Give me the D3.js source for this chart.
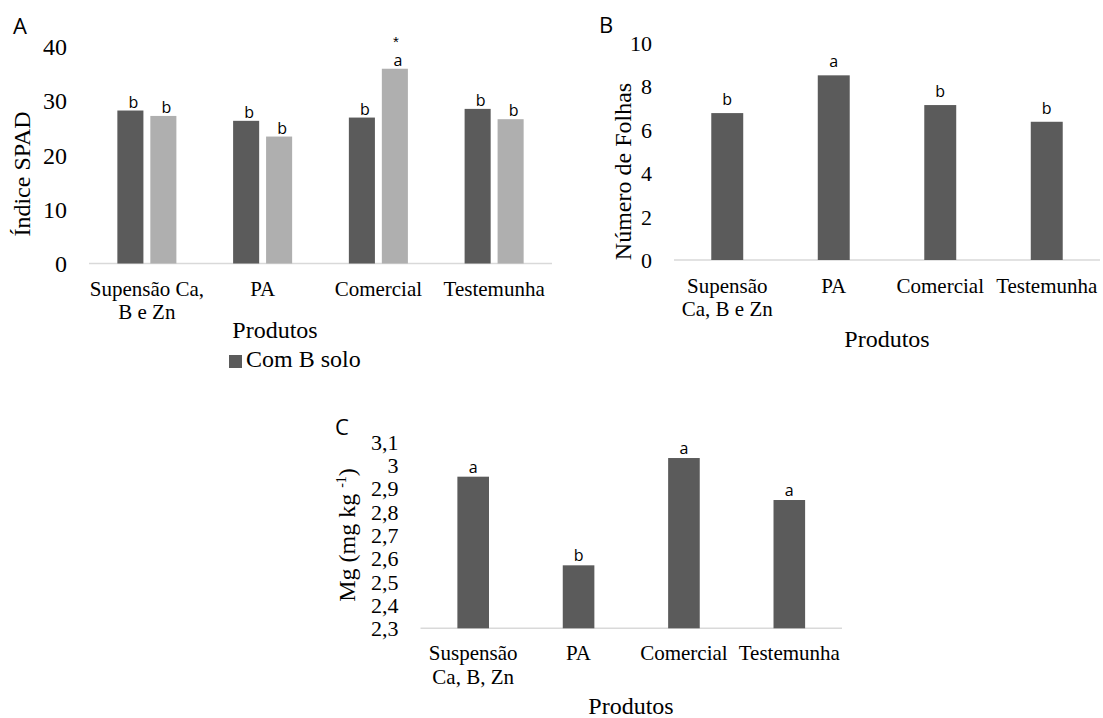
<!DOCTYPE html>
<html>
<head>
<meta charset="utf-8">
<script src="https://cdn.jsdelivr.net/npm/d3@7"></script>
<style>
  html, body { margin: 0; padding: 0; background: #ffffff; }
  svg { display: block; }
</style>
</head>
<body>
<svg id="chart" width="1103" height="718"></svg>
<script>
// ---------- DATA ----------
// Panel A – Índice SPAD
const categoriesA = [["Supensão Ca,", "B e Zn"], ["PA"], ["Comercial"], ["Testemunha"]];
const seriesA = ["Com B solo", "Sem B solo"];
const valuesComB = [28.2, 26.3, 26.9, 28.5];
const valuesSemB = [27.2, 23.4, 35.9, 26.6];
const lettersComB = ["b", "b", "b", "b"];
const lettersSemB = ["b", "b", "a", "b"];
const starsSemB = ["", "", "*", ""];
const ticksA = [0, 10, 20, 30, 40];

// Panel B – Número de Folhas
const categoriesB = [["Supensão", "Ca, B e Zn"], ["PA"], ["Comercial"], ["Testemunha"]];
const valuesB = [6.77, 8.51, 7.14, 6.37];
const lettersB = ["b", "a", "b", "b"];
const ticksB = [0, 2, 4, 6, 8, 10];

// Panel C – Mg
const categoriesC = [["Suspensão", "Ca, B, Zn"], ["PA"], ["Comercial"], ["Testemunha"]];
const valuesC = [2.95, 2.57, 3.03, 2.85];
const lettersC = ["a", "b", "a", "a"];
const ticksC = [2.3, 2.4, 2.5, 2.6, 2.7, 2.8, 2.9, 3.0, 3.1];

// ---------- STYLE ----------
const DARK = "#5b5b5b";
const LIGHT = "#afafaf";
const AXIS = "#d9d9d9";
const SERIF = "Liberation Serif, Times New Roman, serif";
const SANS = "Open Sans, Noto Sans, sans-serif";
const fmtComma = v => { const s = (+v.toFixed(1)).toString(); return s.replace(".", ","); };

const svg = d3.select("#chart");

function yAxis(g, y, x0, ticks, fmt, size) {
  const ax = d3.axisLeft(y).tickValues(ticks).tickSize(0).tickPadding(22).tickFormat(fmt);
  const gg = g.append("g").attr("transform", `translate(${x0},0)`).call(ax)
    .attr("font-family", SERIF).attr("font-size", size);
  gg.select(".domain").remove();
  gg.selectAll("text").attr("fill", "#000").attr("dy", "0.34em");
}

function categoryLabels(g, x, cats, lineYs, size) {
  cats.forEach((lines, i) => {
    const t = g.append("text").attr("text-anchor", "middle").attr("font-family", SERIF)
      .attr("font-size", size).attr("fill", "#000");
    lines.forEach((ln, j) => {
      t.append("tspan").attr("x", x(i) + x.bandwidth() / 2).attr("y", lineYs[j]).text(ln);
    });
  });
}

function baseLine(g, x1, x2, y) {
  g.append("line").attr("x1", x1).attr("x2", x2).attr("y1", y).attr("y2", y)
    .attr("stroke", AXIS).attr("stroke-width", 1.5);
}

// ---------- PANEL A ----------
{
  const g = svg.append("g");
  const left = 89, right = 552;
  const y = d3.scaleLinear().domain([0, 40]).range([263.5, 46.5]);
  const x0 = d3.scaleBand().domain(d3.range(categoriesA.length)).range([left, right]);
  const x1 = d3.scaleBand().domain(seriesA).range([0, x0.bandwidth()]).paddingInner(0.21).paddingOuter(0.86);

  yAxis(g, y, left, ticksA, d => d, 24);
  baseLine(g, left, right, y(0));

  const seriesVals = [valuesComB, valuesSemB];
  const seriesLetters = [lettersComB, lettersSemB];
  const colors = [DARK, LIGHT];
  seriesA.forEach((s, si) => {
    const vals = seriesVals[si];
    g.selectAll(null).data(vals).join("rect")
      .attr("x", (d, i) => x0(i) + x1(s))
      .attr("width", x1.bandwidth())
      .attr("y", d => y(d))
      .attr("height", d => y(0) - y(d))
      .attr("fill", colors[si]);
    g.selectAll(null).data(vals).join("text")
      .attr("x", (d, i) => x0(i) + x1(s) + x1.bandwidth() / 2 + 3)
      .attr("y", d => y(d) - 3)
      .attr("text-anchor", "middle").attr("font-family", SANS).attr("font-size", 16).attr("fill", "#000")
      .text((d, i) => seriesLetters[si][i]);
  });
  // significance asterisk above the "Sem B solo" bars
  g.selectAll(null).data(valuesSemB).join("text")
    .attr("x", (d, i) => x0(i) + x1("Sem B solo") + x1.bandwidth() / 2 + 1)
    .attr("y", d => y(d) - 22)
    .attr("text-anchor", "middle").attr("font-family", "Liberation Sans, Arial, sans-serif")
    .attr("font-size", 15).attr("fill", "#000")
    .text((d, i) => starsSemB[i]);

  categoryLabels(g, x0, categoriesA, [296, 319], 21);

  g.append("text").attr("transform", `translate(30,${(46.5 + 263.5) / 2 + 19}) rotate(-90)`)
    .attr("text-anchor", "middle").attr("font-family", SERIF).attr("font-size", 24).text("Índice SPAD");
  g.append("text").attr("x", 275).attr("y", 338).attr("text-anchor", "middle")
    .attr("font-family", SERIF).attr("font-size", 24).text("Produtos");

  // legend
  g.append("rect").attr("x", 229).attr("y", 355).attr("width", 13).attr("height", 13).attr("fill", DARK);
  g.append("text").attr("x", 246).attr("y", 367).attr("font-family", SERIF).attr("font-size", 24).text(seriesA[0]);

  g.append("text").attr("x", 13).attr("y", 34).attr("font-family", SANS).attr("font-size", 22).text("A");
}

// ---------- PANEL B ----------
{
  const g = svg.append("g");
  const left = 674, right = 1100;
  const y = d3.scaleLinear().domain([0, 10]).range([260, 43]);
  const x = d3.scaleBand().domain(d3.range(categoriesB.length)).range([left, right]).paddingInner(0.70).paddingOuter(0.35);

  yAxis(g, y, left, ticksB, d => d, 22);
  baseLine(g, left, right, y(0));

  g.selectAll(null).data(valuesB).join("rect")
    .attr("x", (d, i) => x(i)).attr("width", x.bandwidth())
    .attr("y", d => y(d)).attr("height", d => y(0) - y(d)).attr("fill", DARK);
  g.selectAll(null).data(valuesB).join("text")
    .attr("x", (d, i) => x(i) + x.bandwidth() / 2)
    .attr("y", d => y(d) - 8)
    .attr("text-anchor", "middle").attr("font-family", SANS).attr("font-size", 16)
    .text((d, i) => lettersB[i]);

  categoryLabels(g, x, categoriesB, [293, 316], 21);

  g.append("text").attr("transform", `translate(631,${(43 + 260) / 2 + 20}) rotate(-90)`)
    .attr("text-anchor", "middle").attr("font-family", SERIF).attr("font-size", 24).text("Número de Folhas");
  g.append("text").attr("x", 887).attr("y", 347).attr("text-anchor", "middle")
    .attr("font-family", SERIF).attr("font-size", 24).text("Produtos");

  g.append("text").attr("x", 599).attr("y", 33).attr("font-family", SANS).attr("font-size", 22).text("B");
}

// ---------- PANEL C ----------
{
  const g = svg.append("g");
  const left = 420.5, right = 842;
  const y = d3.scaleLinear().domain([2.3, 3.1]).range([628.3, 441.7]);
  const x = d3.scaleBand().domain(d3.range(categoriesC.length)).range([left, right]).paddingInner(0.70).paddingOuter(0.35);

  yAxis(g, y, left, ticksC, fmtComma, 22);
  baseLine(g, left, right, y(2.3));

  g.selectAll(null).data(valuesC).join("rect")
    .attr("x", (d, i) => x(i)).attr("width", x.bandwidth())
    .attr("y", d => y(d)).attr("height", d => y(2.3) - y(d)).attr("fill", DARK);
  g.selectAll(null).data(valuesC).join("text")
    .attr("x", (d, i) => x(i) + x.bandwidth() / 2)
    .attr("y", d => y(d) - 4)
    .attr("text-anchor", "middle").attr("font-family", SANS).attr("font-size", 16)
    .text((d, i) => lettersC[i]);

  categoryLabels(g, x, categoriesC, [660, 684], 21);

  const t = g.append("text").attr("transform", `translate(355,${(441.7 + 628.3) / 2}) rotate(-90)`)
    .attr("text-anchor", "middle").attr("font-family", SERIF).attr("font-size", 24);
  t.append("tspan").text("Mg (mg kg ");
  t.append("tspan").attr("font-size", 14).attr("dy", -9).text("-1");
  t.append("tspan").attr("dy", 9).text(")");
  g.append("text").attr("x", 631).attr("y", 714).attr("text-anchor", "middle")
    .attr("font-family", SERIF).attr("font-size", 24).text("Produtos");

  g.append("text").attr("x", 335).attr("y", 435).attr("font-family", SANS).attr("font-size", 22).text("C");
}
</script>
</body>
</html>
